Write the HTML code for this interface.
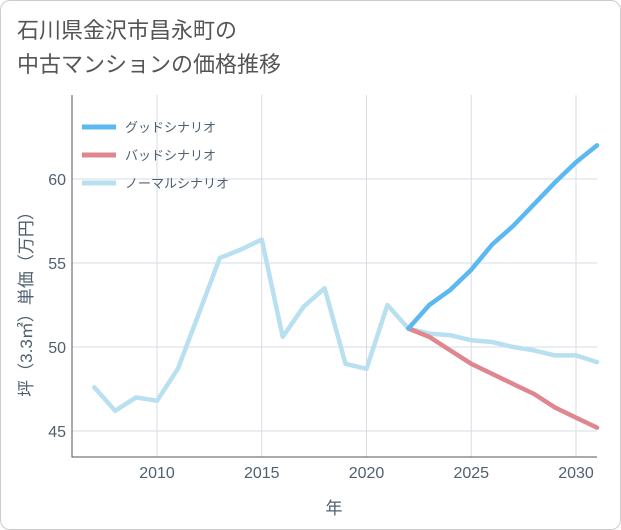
<!DOCTYPE html>
<html><head><meta charset="utf-8">
<style>
body{margin:0;background:#fff;}
#wrap{position:relative;width:621px;height:530px;font-family:"Liberation Sans","Noto Sans CJK JP",sans-serif;}
#frame{position:absolute;left:0;top:0;width:619px;height:528px;border:1px solid #ccc;border-radius:10px;}
#title{position:absolute;left:17px;top:14px;font-size:22px;line-height:34px;color:#555;}
</style></head>
<body>
<div id="wrap">
<div id="frame"></div>
<div id="title">石川県金沢市昌永町の<br>中古マンションの価格推移</div>
<svg id="chart" width="621" height="530" style="position:absolute;left:0;top:0"></svg>
</div>
<script>
const years=[2007,2008,2009,2010,2011,2012,2013,2014,2015,2016,2017,2018,2019,2020,2021,2022,2023,2024,2025,2026,2027,2028,2029,2030,2031];
const normalVals=[47.6,46.2,47.0,46.8,48.7,52.0,55.3,55.8,56.4,50.6,52.4,53.5,49.0,48.7,52.5,51.1,50.8,50.7,50.4,50.3,50.0,49.8,49.5,49.5,49.1];
const futureYears=[2022,2023,2024,2025,2026,2027,2028,2029,2030,2031];
const goodVals=[51.1,52.5,53.4,54.6,56.1,57.2,58.5,59.8,61.0,62.0];
const badVals=[51.1,50.6,49.8,49.0,48.4,47.8,47.2,46.4,45.8,45.2];
const xTicks=[2010,2015,2020,2025,2030];
const yTicks=[45,50,55,60];
const NS="http://www.w3.org/2000/svg";
const svg=document.getElementById('chart');
const L=72,R=597,T=95,B=457;
const x=v=>157+(v-2010)*20.95;
const y=v=>347-(v-50)*16.8;
function mk(tag,attrs){const e=document.createElementNS(NS,tag);for(const k in attrs)e.setAttribute(k,attrs[k]);svg.appendChild(e);return e;}
xTicks.forEach(t=>{
 const g=mk('line',{x1:x(t),x2:x(t),y1:T,y2:B,stroke:'#d5dde5','stroke-width':1});
 
 
 const l=mk('text',{x:x(t),y:478,'text-anchor':'middle','font-size':16,fill:'#506070'});
 l.textContent=t;
 
 
});
yTicks.forEach(t=>{
 const g=mk('line',{x1:L,x2:R,y1:y(t),y2:y(t),stroke:'#d5dde5','stroke-width':1});
 
 
 const l=mk('text',{x:66,y:y(t)+6,'text-anchor':'end','font-size':16,fill:'#506070'});
 l.textContent=t;
 
 
});
const ax=mk('path',{d:`M${L},${T}V${B}H${R}`,fill:'none',stroke:'#555','stroke-width':1});


function series(xs,vs,color,name){
 const d=xs.map((t,i)=>(i?'L':'M')+x(t).toFixed(1)+','+y(vs[i]).toFixed(1)).join('');
 const p=mk('path',{d,fill:'none',stroke:color,'stroke-width':4.5,'stroke-linejoin':'round','stroke-linecap':'round'});
 
 
}
series(years,normalVals,'#b9e0f0','normal-scenario-line');
series(futureYears,badVals,'#e0868e','bad-scenario-line');
series(futureYears,goodVals,'#5bb8f0','good-scenario-line');
const legend=[['グッドシナリオ','#5bb8f0'],['バッドシナリオ','#e0868e'],['ノーマルシナリオ','#b9e0f0']];
legend.forEach((e,i)=>{
 const yy=127+i*28;
 const ln=mk('line',{x1:82,x2:116,y1:yy,y2:yy,stroke:e[1],'stroke-width':5});
 
 
 const tx=mk('text',{x:125,y:yy+5,'font-size':13,fill:'#506070'});
 tx.textContent=e[0];
 
 
});
const xt=mk('text',{x:334,y:514,'text-anchor':'middle','font-size':17,fill:'#506070'});
xt.textContent='年';


const yt=mk('text',{x:0,y:0,'text-anchor':'middle','font-size':17,fill:'#506070',transform:'translate(32,300) rotate(-90)'});
yt.textContent='坪（3.3㎡）単価（万円）';


</script>
</body></html>
